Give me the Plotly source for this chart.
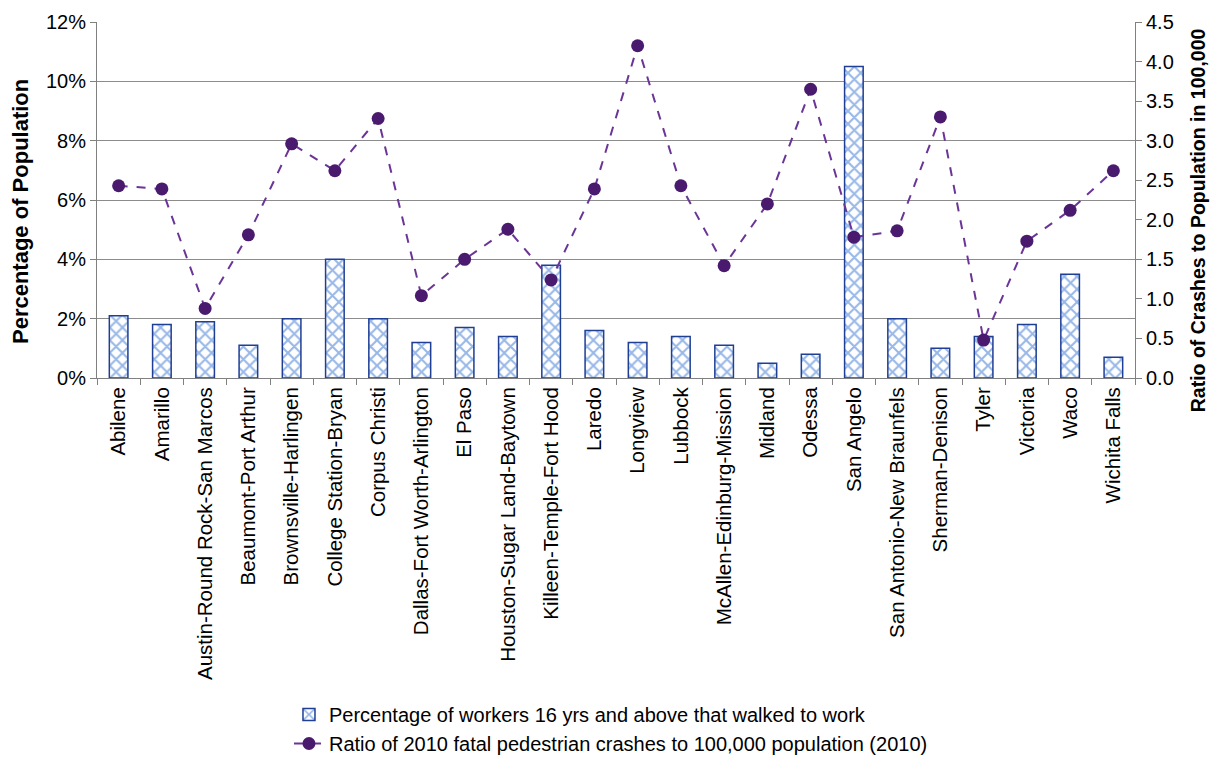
import plotly.graph_objects as go

cities = ["Abilene", "Amarillo", "Austin-Round Rock-San Marcos", "Beaumont-Port Arthur",
          "Brownsville-Harlingen", "College Station-Bryan", "Corpus Christi",
          "Dallas-Fort Worth-Arlington", "El Paso", "Houston-Sugar Land-Baytown",
          "Killeen-Temple-Fort Hood", "Laredo", "Longview", "Lubbock",
          "McAllen-Edinburg-Mission", "Midland", "Odessa", "San Angelo",
          "San Antonio-New Braunfels", "Sherman-Denison", "Tyler", "Victoria", "Waco",
          "Wichita Falls"]
walked_pct = [2.1, 1.8, 1.9, 1.1, 2.0, 4.0, 2.0, 1.2, 1.7, 1.4, 3.8, 1.6, 1.2, 1.4,
              1.1, 0.5, 0.8, 10.5, 2.0, 1.0, 1.4, 1.8, 3.5, 0.7]
crash_ratio = [2.43, 2.39, 0.88, 1.81, 2.96, 2.62, 3.28, 1.04, 1.50, 1.88, 1.24, 2.39,
               4.20, 2.43, 1.42, 2.20, 3.65, 1.78, 1.86, 3.30, 0.48, 1.73, 2.12, 2.62]

bar_name = "Percentage of workers 16 yrs and above that walked to work"
line_name = "Ratio of 2010 fatal pedestrian crashes to 100,000 population (2010)"
left_title = "Percentage of Population"
right_title = "Ratio of Crashes to Population in 100,000"

fig = go.Figure()
fig.add_trace(go.Bar(
    x=cities, y=[v / 100 for v in walked_pct], name=bar_name, width=0.43,
    marker=dict(color="white", line=dict(color="#1f3f95", width=1.5),
                pattern=dict(shape="x", fgcolor="#2f6fd0", bgcolor="white",
                             size=9, solidity=0.4)),
    yaxis="y"))
fig.add_trace(go.Scatter(
    x=cities, y=crash_ratio, name=line_name, mode="lines+markers",
    line=dict(color="#6b3597", width=2, dash="dash"),
    marker=dict(color="#4a1a6e", size=13),
    yaxis="y2"))

font_family = "Liberation Sans, Arial, sans-serif"
fig.update_layout(
    width=1219, height=763,
    margin=dict(l=89, r=92, t=14, b=393, autoexpand=False),
    paper_bgcolor="white", plot_bgcolor="white",
    font=dict(family=font_family, size=20, color="black"),
    xaxis=dict(tickangle=-90, showline=True, linecolor="#808080", linewidth=1,
               range=[-0.5, len(cities) - 0.5],
               ticks="outside", tickson="boundaries", ticklen=6, tickcolor="#808080",
               tickfont=dict(size=20.5), showgrid=False, automargin=False),
    yaxis=dict(range=[0, 0.12], dtick=0.02, tickformat=".0%", showgrid=True,
               gridcolor="#8c8c8c", gridwidth=1, showline=True, linecolor="#808080",
               ticks="outside", ticklen=6, tickcolor="#808080", automargin=False,
               tickfont=dict(size=20), zeroline=False),
    yaxis2=dict(range=[0, 4.5], dtick=0.5, tickformat=".1f", overlaying="y", side="right",
                showgrid=False, showline=True, linecolor="#808080", ticks="outside",
                ticklen=6, tickcolor="#808080", automargin=False,
                tickfont=dict(size=20), zeroline=False),
    legend=dict(x=0.2305, y=0.0996, xref="container", yref="container",
                xanchor="left", yanchor="top", orientation="v",
                font=dict(size=20), tracegroupgap=2, bgcolor="rgba(0,0,0,0)"),
    annotations=[
        dict(text="<b>" + left_title + "</b>", xref="paper", yref="paper",
             x=-0.0742, y=0.469, xanchor="center", yanchor="middle", textangle=-90,
             showarrow=False, font=dict(size=22)),
        dict(text="<b>" + right_title + "</b>", xref="paper", yref="paper",
             x=1.061, y=0.444, xanchor="center", yanchor="middle", textangle=-90,
             showarrow=False, font=dict(size=19.5)),
    ],
)

fig.write_html("out.html")
